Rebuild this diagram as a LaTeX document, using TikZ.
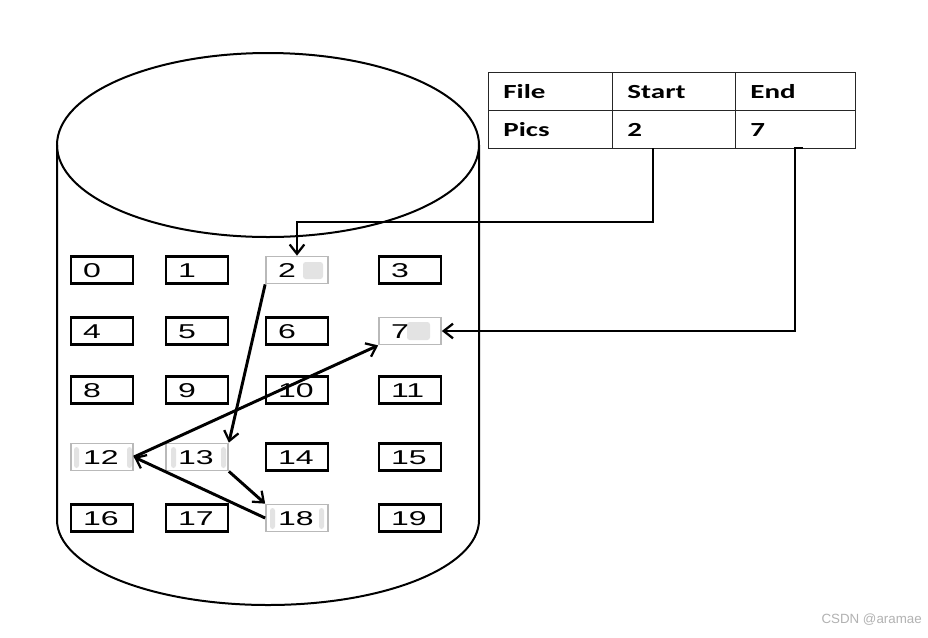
\documentclass[tikz,border=0pt]{standalone}
\usepackage{fontspec}
\setmainfont{Liberation Sans}
\newfontfamily\digitfont[FakeStretch=1.6]{Liberation Sans}
\newfontfamily\tablefont[FakeStretch=1.45]{Carlito}
\usetikzlibrary{arrows.meta,calc}
\begin{document}
\begin{tikzpicture}[x=0.75pt,y=-0.75pt,
  cell/.style={draw=black, line width=2.1pt, minimum width=46.5pt, minimum height=20.25pt,
    inner xsep=9pt, inner ysep=0pt, text width=28.5pt, align=left,
    text height=10.7pt, text depth=0pt,
    font=\digitfont\fontsize{15}{15}\selectfont},
  hcell/.style={cell, draw=gray!55, line width=1.3pt},
  tcell/.style={draw=black!85, line width=1.1pt, minimum height=28.5pt, inner xsep=11pt,
    inner ysep=0pt, align=left, anchor=north west,
    font=\tablefont\bfseries\fontsize{15}{15}\selectfont},
  blob/.style={fill=gray!22, draw=none, rounded corners=2pt},
  arr/.style={line width=2.2pt, -{Straight Barb[length=7pt,width=11pt,line width=1.7pt]}}
]
\useasboundingbox (0,0) rectangle (928,637);
\fill[white] (0,0) rectangle (928,637);

% cylinder
\draw[line width=1.5pt] (268,145) ellipse [x radius=211, y radius=92];
\draw[line width=1.5pt] (57,145) -- (57,520) arc[start angle=180, end angle=0, x radius=211, y radius=85] -- (479,145);

% blobs (behind box text)
\fill[blob] (303,262) rectangle (323,279);
\fill[blob] (407,322) rectangle (430,340);
\fill[blob] (74,447) rectangle (79,468);
\fill[blob] (127,447) rectangle (132,468);
\fill[blob] (171,447) rectangle (176,468);
\fill[blob] (221,447) rectangle (226,468);
\fill[blob] (270,508) rectangle (275,529);
\fill[blob] (319,508) rectangle (324,529);

% boxes
\node[cell]  (b0)  at (102,270) {0};
\node[cell]  (b1)  at (197,270) {1};
\node[hcell] (b2)  at (297,270) {2};
\node[cell]  (b3)  at (410,270) {3};
\node[cell]  (b4)  at (102,331) {4};
\node[cell]  (b5)  at (197,331) {5};
\node[cell]  (b6)  at (297,331) {6};
\node[hcell] (b7)  at (410,331) {7};
\node[cell]  (b8)  at (102,390) {8};
\node[cell]  (b9)  at (197,390) {9};
\node[cell]  (b10) at (297,390) {10};
\node[cell]  (b11) at (410,390) {11};
\node[hcell] (b12) at (102,457) {12};
\node[hcell] (b13) at (197,457) {13};
\node[cell]  (b14) at (297,457) {14};
\node[cell]  (b15) at (410,457) {15};
\node[cell]  (b16) at (102,518) {16};
\node[cell]  (b17) at (197,518) {17};
\node[hcell] (b18) at (297,518) {18};
\node[cell]  (b19) at (410,518) {19};

% table
\node[tcell, minimum width=93pt, text width=71pt]       (f1) at (488,72)  {File};
\node[tcell, minimum width=92.25pt, text width=70.25pt] (s1) at (612,72)  {Start};
\node[tcell, minimum width=90pt, text width=68pt]       (e1) at (735,72)  {End};
\node[tcell, minimum width=93pt, text width=71pt]       (f2) at (488,110) {Pics};
\node[tcell, minimum width=92.25pt, text width=70.25pt] (s2) at (612,110) {2};
\node[tcell, minimum width=90pt, text width=68pt]       (e2) at (735,110) {7};

% connectors
\coordinate (sA) at (653,148);
\coordinate (eA) at (795,148);
\coordinate (eH) at (803,148);
\draw[arr, line join=miter] (sA) -- (653,222) -| (b2.north);
\draw[arr, line join=miter] (eH) -- (eA) |- (b7.east);
\draw[arr] (b2.south west) -- (b13.north east);
\draw[arr] (b13.south east) -- (b18.north west);
\draw[arr] (b18.west) -- (b12.east);
\draw[arr] (b12.east) -- (b7.south west);

% watermark
\node[anchor=east, text=gray!60, font=\fontsize{10}{10}\selectfont, inner sep=0pt] (wm) at (922,620) {CSDN @aramae};
\end{tikzpicture}
\end{document}
